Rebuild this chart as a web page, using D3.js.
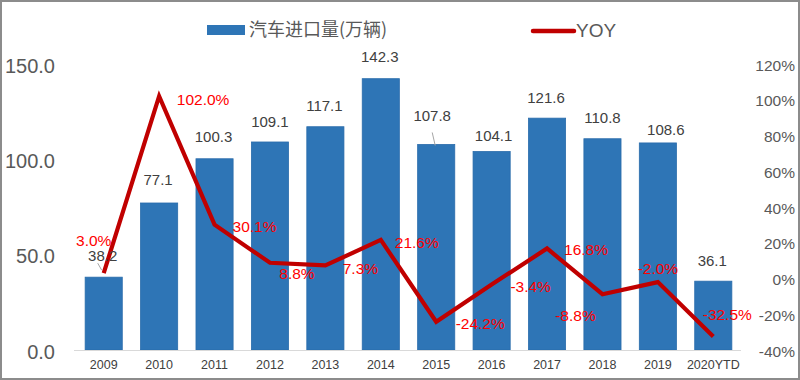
<!DOCTYPE html>
<html>
<head>
<meta charset="utf-8">
<script src="https://cdn.jsdelivr.net/npm/d3@7"></script>
<style>
  html, body { margin: 0; padding: 0; background: #fff; }
  svg { display: block; font-family: "Liberation Sans", Arial, sans-serif; }
</style>
</head>
<body>
<svg id="chart" width="800" height="380"></svg>
<script>
// ---- data ----
const categories = ["2009","2010","2011","2012","2013","2014","2015","2016","2017","2018","2019","2020YTD"];
const imports = [38.2, 77.1, 100.3, 109.1, 117.1, 142.3, 107.8, 104.1, 121.6, 110.8, 108.6, 36.1];
const yoy = [3.0, 102.0, 30.1, 8.8, 7.3, 21.6, -24.2, -3.4, 16.8, -8.8, -2.0, -32.5];
const leftTicks = [0, 50, 100, 150];
const rightTicks = [-40, -20, 0, 20, 40, 60, 80, 100, 120];
const barSeriesName = "汽车进口量(万辆)";
const lineSeriesName = "YOY";

// ---- label layout (offsets in px, styling only) ----
const barLabelOffset = [[-1,-22],[-1,-23],[-1,-22],[0,-20],[-1,-21],[-1,-22],[-4,-29],[2,-16],[-1,-21],[0,-21],[8,-13],[-1,-21]];
const yoyLabelOffset = [[-10,-33],[44,3],[40,2],[27,11],[35,3],[36,3],[44,2],[39,2],[39,1],[-27,21],[0,-14],[14,-22]];

const svg = d3.select("#chart");
const W = 800, H = 380;
const plot = {left: 76, right: 741, top: 64, bottom: 350};

const x = d3.scaleBand().domain(categories).range([plot.left, plot.right]).paddingInner(0.33).paddingOuter(0.165);
const yL = d3.scaleLinear().domain([0, 150]).range([plot.bottom, plot.top]);
const yR = d3.scaleLinear().domain([-40, 120]).range([plot.bottom, plot.top]);

// border
svg.append("rect").attr("x", 1).attr("y", 1).attr("width", W - 2).attr("height", H - 2)
  .attr("fill", "#fff").attr("stroke", "#8c8c8c").attr("stroke-width", 2);

// bars
svg.append("g").selectAll("rect").data(imports).join("rect")
  .attr("x", (d, i) => x(categories[i]))
  .attr("y", d => yL(d))
  .attr("width", x.bandwidth())
  .attr("height", d => yL(0) - yL(d))
  .attr("fill", "#2E75B6")
  .attr("stroke", "#2a6cab").attr("stroke-width", 0.8);

// x axis line
svg.append("line").attr("x1", 74).attr("x2", plot.right).attr("y1", yL(0) + 0.5).attr("y2", yL(0) + 0.5)
  .attr("stroke", "#d9d9d9").attr("stroke-width", 1);

// x axis labels
const xAxis = d3.axisBottom(x).tickSize(0).tickPadding(10);
const gx = svg.append("g").attr("transform", `translate(0,${yL(0)})`).call(xAxis);
gx.select(".domain").remove();
gx.selectAll("text").attr("font-size", 12.5).attr("fill", "#404040")
  .attr("font-family", "'Liberation Sans', Arial, sans-serif");

// left axis
const gl = svg.append("g").attr("transform", `translate(55,0)`)
  .call(d3.axisLeft(yL).tickValues(leftTicks).tickFormat(d3.format(".1f")).tickSize(0).tickPadding(0));
gl.select(".domain").remove();
gl.selectAll("text").attr("font-size", 20).attr("fill", "#595959").attr("dy", "0.4em")
  .attr("font-family", "'Liberation Sans', Arial, sans-serif");

// right axis
const gr = svg.append("g").attr("transform", `translate(795,0)`)
  .call(d3.axisLeft(yR).tickValues(rightTicks).tickFormat(d => d + "%").tickSize(0).tickPadding(0));
gr.select(".domain").remove();
gr.selectAll("text").attr("font-size", 15.5).attr("fill", "#595959").attr("dy", "0.4em")
  .attr("font-family", "'Liberation Sans', Arial, sans-serif");

// line
const cx = i => x(categories[i]) + x.bandwidth() / 2;
const line = d3.line().x((d, i) => cx(i)).y(d => yR(d));
svg.append("path").datum(yoy).attr("d", line)
  .attr("fill", "none").attr("stroke", "#C00000").attr("stroke-width", 4.2)
  .attr("stroke-linejoin", "miter").attr("stroke-linecap", "butt");

// leader lines
svg.append("line").attr("x1", cx(0) - 6).attr("y1", yL(imports[0]) - 14).attr("x2", cx(0) - 2).attr("y2", yL(imports[0]) - 7)
  .attr("stroke", "#a6a6a6").attr("stroke-width", 1);
svg.append("line").attr("x1", cx(6) - 4).attr("y1", yL(imports[6]) - 12).attr("x2", cx(6) - 1).attr("y2", yL(imports[6]) + 1)
  .attr("stroke", "#a6a6a6").attr("stroke-width", 1);

// bar labels
svg.append("g").selectAll("text").data(imports).join("text")
  .attr("x", (d, i) => cx(i) + barLabelOffset[i][0])
  .attr("y", (d, i) => yL(d) + barLabelOffset[i][1])
  .attr("dy", "0.36em")
  .attr("text-anchor", "middle")
  .attr("font-size", 15).attr("fill", "#404040")
  .text(d => d.toFixed(1));

// yoy labels
svg.append("g").selectAll("text").data(yoy).join("text")
  .attr("x", (d, i) => cx(i) + yoyLabelOffset[i][0])
  .attr("y", (d, i) => yR(d) + yoyLabelOffset[i][1])
  .attr("dy", "0.36em")
  .attr("text-anchor", "middle")
  .attr("font-size", 15.5).attr("fill", "#FF0000")
  .text(d => d.toFixed(1) + "%");

// legend
const lg = svg.append("g");
lg.append("rect").attr("x", 207).attr("y", 25).attr("width", 38).attr("height", 10).attr("fill", "#2E75B6");
lg.append("text").attr("x", 249).attr("y", 30).attr("dy", "0.36em")
  .attr("font-size", 18).attr("fill", "#595959")
  .attr("font-family", "'Noto Sans CJK SC', sans-serif")
  .text(barSeriesName);
lg.append("line").attr("x1", 533).attr("x2", 574).attr("y1", 31).attr("y2", 31)
  .attr("stroke", "#C00000").attr("stroke-width", 4.5).attr("stroke-linecap", "round");
lg.append("text").attr("x", 576).attr("y", 30).attr("dy", "0.36em")
  .attr("font-size", 19).attr("fill", "#595959")
  .text(lineSeriesName);
</script>
</body>
</html>
